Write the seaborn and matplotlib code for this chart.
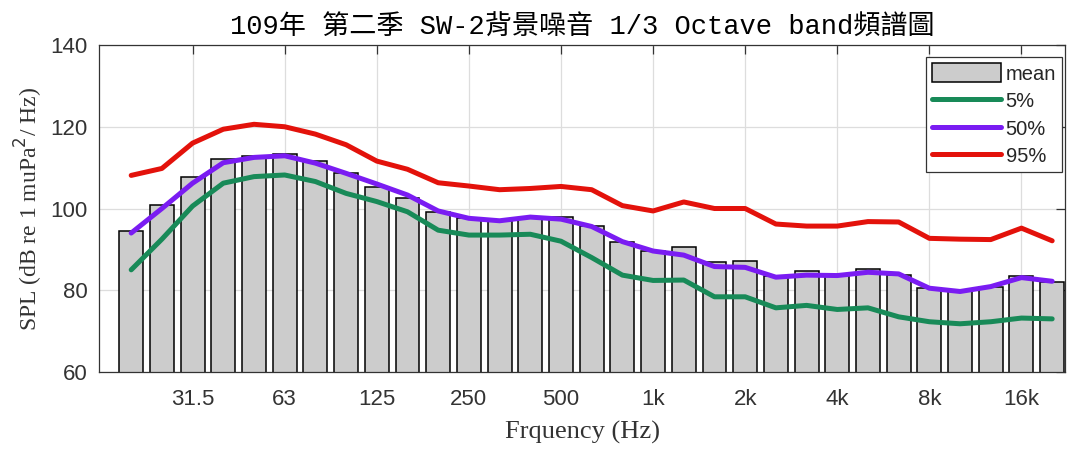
import numpy as np
import pandas as pd
import matplotlib
matplotlib.use('Agg')
import matplotlib.pyplot as plt
import seaborn as sns

# 1/3 octave band centres
bands = ['20', '25', '31.5', '40', '50', '63', '80', '100', '125', '160', '200',
         '250', '315', '400', '500', '630', '800', '1k', '1.25k', '1.6k', '2k',
         '2.5k', '3.15k', '4k', '5k', '6.3k', '8k', '10k', '12.5k', '16k', '20k']

# SPL values (dB re 1 uPa^2/Hz)
spl_mean = [94.5, 100.9, 107.6, 112.0, 112.8, 113.3, 111.7, 108.7, 105.3, 102.5, 99.2,
            97.8, 97.0, 97.8, 97.9, 95.6, 91.9, 89.6, 90.6, 86.8, 87.2,
            83.4, 84.8, 83.7, 85.1, 83.7, 80.5, 79.8, 80.9, 83.4, 82.1]
spl_p5 = [85.0, 92.5, 100.6, 106.2, 107.8, 108.2, 106.6, 103.7, 101.7, 99.2, 94.7,
          93.5, 93.5, 93.7, 92.0, 88.0, 83.7, 82.4, 82.5, 78.4, 78.4,
          75.7, 76.3, 75.3, 75.7, 73.5, 72.3, 71.8, 72.3, 73.2, 73.0]
spl_p50 = [94.0, 100.0, 106.2, 111.2, 112.5, 112.9, 111.1, 108.6, 106.0, 103.3, 99.4,
           97.6, 97.0, 97.9, 97.4, 95.6, 91.9, 89.6, 88.6, 85.8, 85.6,
           83.2, 83.7, 83.6, 84.4, 84.0, 80.5, 79.7, 80.9, 83.1, 82.2]
spl_p95 = [108.1, 109.8, 116.0, 119.4, 120.6, 120.0, 118.2, 115.6, 111.6, 109.6, 106.3,
           105.5, 104.6, 104.9, 105.4, 104.6, 100.7, 99.4, 101.6, 100.0, 100.0,
           96.2, 95.7, 95.7, 96.8, 96.7, 92.7, 92.5, 92.4, 95.2, 92.1]

tick_labels = ['31.5', '63', '125', '250', '500', '1k', '2k', '4k', '8k', '16k']

df = pd.DataFrame({'band': bands, 'mean': spl_mean, 'p5': spl_p5,
                   'p50': spl_p50, 'p95': spl_p95})
df['pos'] = np.arange(len(df))

sns.set_style('white')
serif = ['Liberation Serif', 'Noto Sans CJK TC']
title_font = ['Liberation Mono', 'Noto Sans CJK TC']
sans = ['Liberation Sans', 'DejaVu Sans']

fig = plt.figure(figsize=(10.78, 4.5), dpi=100)
ax = fig.add_axes([0.0918, 0.1733, 0.8962, 0.7267])

sns.barplot(data=df, x='band', y='mean', order=bands, color='#cccccc',
            edgecolor='black', linewidth=1.1, width=0.78, saturation=1,
            label='mean', ax=ax)

line_styles = [('p5', '5%', '#188a58'), ('p50', '50%', '#7a1cf2'), ('p95', '95%', '#e3120b')]
for col, lab, colr in line_styles:
    sns.lineplot(data=df, x='pos', y=col, color=colr, linewidth=3.6,
                 label=lab, ax=ax)

ax.set_xlim(-1.05, 30.42)
ax.set_ylim(60, 140)
ax.set_yticks([60, 80, 100, 120, 140])
ax.set_xticks([bands.index(t) for t in tick_labels])
ax.set_xticklabels(tick_labels)
for lbl in ax.get_xticklabels() + ax.get_yticklabels():
    lbl.set_family(sans)
    lbl.set_fontsize(16)

ax.grid(True, color='#dddddd', linewidth=0.9)
ax.set_axisbelow(True)
ax.tick_params(direction='in', top=True, right=True, length=6.5, width=0.9,
               colors='#333333', labelcolor='#333333')
ax.tick_params(axis='x', pad=12)
ax.tick_params(axis='y', pad=8)
for s in ax.spines.values():
    s.set_color('#333333')
    s.set_linewidth(0.9)

ax.set_xlabel('Frquency (Hz)', family=serif, fontsize=19, color='#333333', labelpad=8)
ax.set_ylabel('SPL (dB re 1 muPa$^2$/ Hz)', family=serif, fontsize=17, color='#333333', labelpad=4)
ax.set_title('109年 第二季 SW-2背景噪音 1/3 Octave band頻譜圖', family=title_font,
             fontsize=19.5, color='black', pad=7)

handles, labels = ax.get_legend_handles_labels()
order = [labels.index(k) for k in ['mean', '5%', '50%', '95%']]
leg = ax.legend([handles[i] for i in order], [labels[i] for i in order],
                loc='upper right', bbox_to_anchor=(0.997, 0.963),
                prop={'family': sans, 'size': 14.5},
                fancybox=False, framealpha=1, edgecolor='#333333',
                handlelength=3.4, handleheight=1.1, borderpad=0.3, labelspacing=0.35,
                handletextpad=0.25, borderaxespad=0)
leg.get_frame().set_linewidth(0.9)

fig.savefig('out.png', dpi=100)
